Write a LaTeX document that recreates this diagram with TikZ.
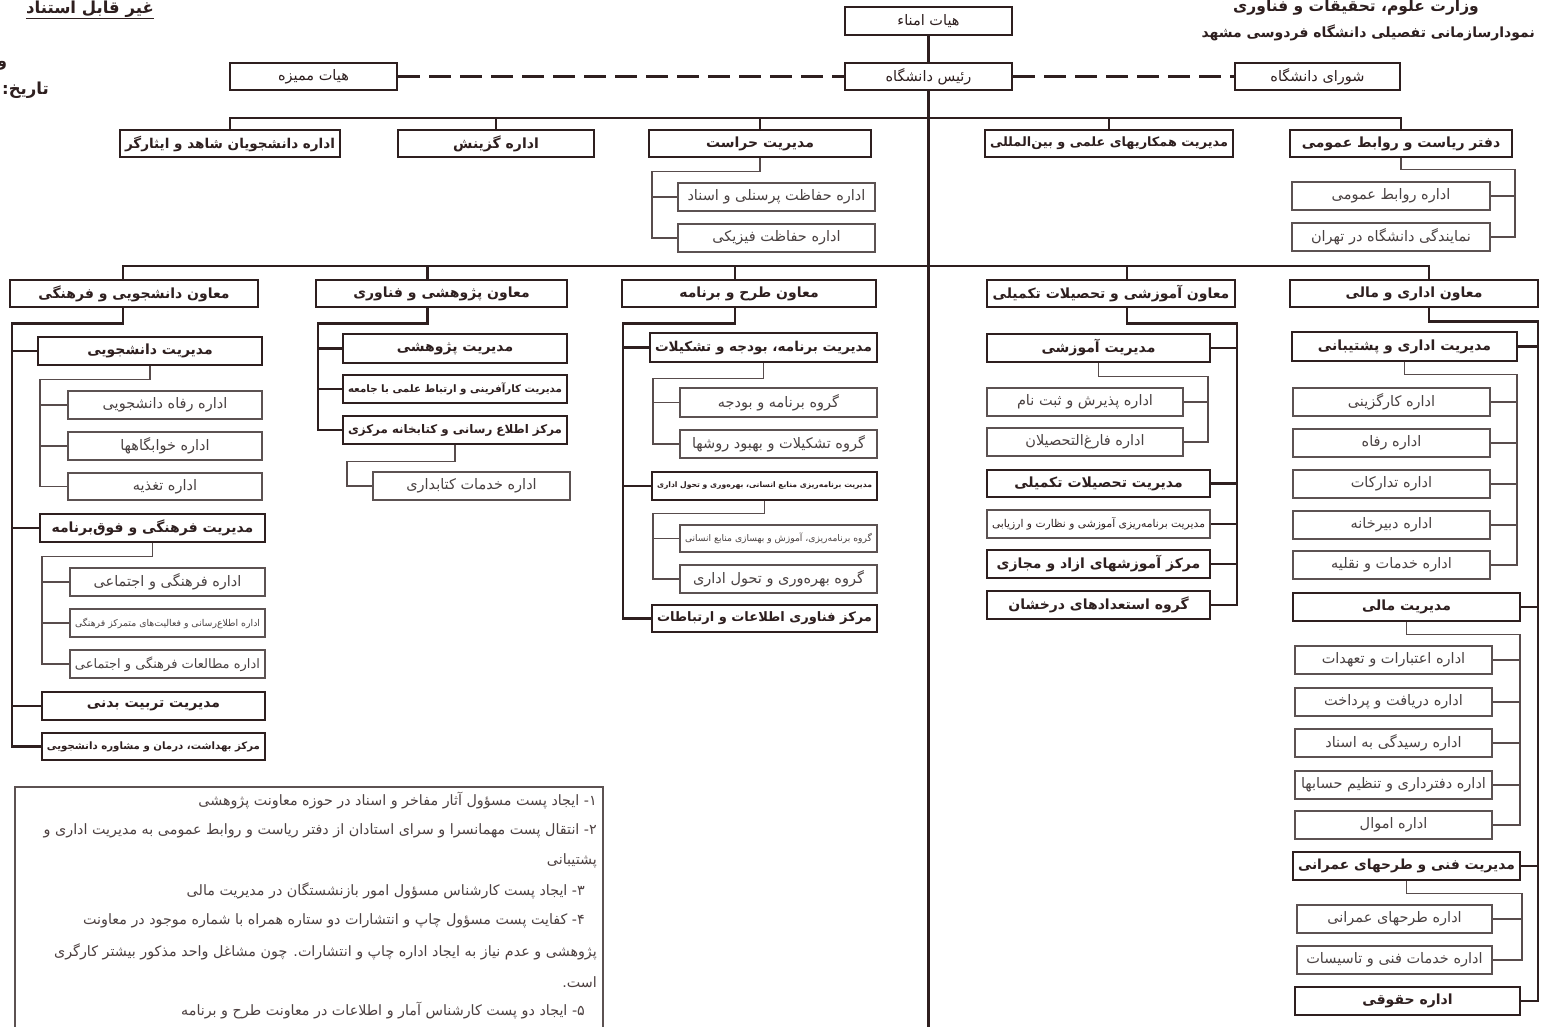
\documentclass[tikz,border=0pt]{standalone}
\usepackage{fontspec}
\usepackage{graphicx}
\usetikzlibrary{backgrounds}
\TeXXeTstate=1
\newfontfamily\arabicfont[Script=Arabic]{DejaVu Sans}
\definecolor{ink}{HTML}{2E1F1F}
\definecolor{thinline}{HTML}{5C5252}
\definecolor{thintext}{HTML}{4A4242}
\newsavebox\fitbx
\newdimen\fitw
\newcommand\fitto[1]{\sbox\fitbx{\arabicfont #1}\ifdim\wd\fitbx>\fitw\resizebox{\fitw}{!}{\usebox\fitbx}\else\usebox\fitbx\fi}
\newcommand\bx[7]{\global\fitw=\dimexpr #4pt-#2pt-10pt\relax
  \node[#6, minimum width={#4-#2}, minimum height={#5-#3}] (#1) at ({(#2+#4)/2},{(#3+#5)/2}) {\fitto{#7}};}
\tikzset{
  tb/.style={draw=ink, line width=2.6pt, fill=white, inner sep=0pt, text=ink, font=\bfseries\fontsize{14}{16}\selectfont},
  hb/.style={tb, font=\fontsize{14.5}{16}\selectfont},
  nb/.style={draw=thinline, line width=1.3pt, fill=white, inner sep=0pt, text=thintext, font=\fontsize{14.5}{16}\selectfont},
  thk/.style={draw=ink, line width=2.6pt, line cap=rect},
  thn/.style={draw=ink!80, line width=1.5pt, line cap=rect},
  dsh/.style={draw=ink, line width=3pt, dash pattern=on 22pt off 9pt},
  fnt/.style={inner sep=0pt, text=ink!85, font=\arabicfont\fontsize{14.3}{16}\selectfont},
  ttl/.style={inner sep=0pt, text=ink, font=\arabicfont\bfseries\fontsize{15}{18}\selectfont}
}
\begin{document}
\begin{tikzpicture}[x=1pt,y=-1pt]
\useasboundingbox (0,0) rectangle (1542,1027);

% header texts
\node[ttl, font=\arabicfont\bfseries\fontsize{16.5}{18}\selectfont] (gh) at (90,9) {\beginR غیر قابل استناد\endR};
\node[ttl, font=\arabicfont\bfseries\fontsize{16}{18}\selectfont, anchor=west] (vav) at (-3,66) {\beginR و\endR};
\node[ttl, font=\arabicfont\bfseries\fontsize{16.5}{18}\selectfont, anchor=east] (tarikh) at (49,90) {\beginR تاریخ:\endR};
\node[ttl, font=\arabicfont\bfseries\fontsize{15.5}{19}\selectfont] (vezarat) at (1356,8) {\beginR وزارت علوم، تحقیقات و فناوری\endR};
\node[ttl, font=\arabicfont\bfseries\fontsize{14}{17}\selectfont, anchor=east] (nemodar) at (1535,33) {\beginR نمودارسازمانی تفصیلی دانشگاه فردوسی مشهد\endR};

% top boxes
\bx{omana}{845}{7}{1012}{35}{hb}{\beginR هیات امناء\endR}
\bx{rais}{845}{63}{1012}{90}{hb}{\beginR رئیس دانشگاه\endR}
\bx{momayyeze}{230}{63}{397}{90}{hb}{\beginR هیات ممیزه\endR}
\bx{shora}{1235}{63}{1400}{90}{hb}{\beginR شورای دانشگاه\endR}

% row 2
\bx{shahed}{120}{130}{340}{157}{tb}{\beginR اداره دانشجویان شاهد و ایثارگر\endR}
\bx{gozinesh}{398}{130}{594}{157}{tb}{\beginR اداره گزینش\endR}
\bx{herasat}{649}{130}{871}{157}{tb}{\beginR مدیریت حراست\endR}
\bx{hamkari}{985}{130}{1233}{157}{tb}{\beginR مدیریت همکاریهای علمی و بین‌المللی\endR}
\bx{daftar}{1290}{130}{1512}{157}{tb}{\beginR دفتر ریاست و روابط عمومی\endR}
\bx{hf1}{678}{183}{875}{211}{nb}{\beginR اداره حفاظت پرسنلی و اسناد\endR}
\bx{hf2}{678}{224}{875}{252}{nb}{\beginR اداره حفاظت فیزیکی\endR}
\bx{dr1}{1292}{182}{1490}{210}{nb}{\beginR اداره روابط عمومی\endR}
\bx{dr2}{1292}{223}{1490}{251}{nb}{\beginR نمایندگی دانشگاه در تهران\endR}

% row 3
\bx{ma1}{10}{280}{258}{307}{tb}{\beginR معاون دانشجویی و فرهنگی\endR}
\bx{ma2}{316}{280}{567}{307}{tb}{\beginR معاون پژوهشی و فناوری\endR}
\bx{ma3}{622}{280}{876}{307}{tb}{\beginR معاون طرح و برنامه\endR}
\bx{ma4}{987}{280}{1235}{307}{tb}{\beginR معاون آموزشی و تحصیلات تکمیلی\endR}
\bx{ma5}{1290}{280}{1538}{307}{tb}{\beginR معاون اداری و مالی\endR}

% column 1
\bx{a1}{38}{337}{262}{365}{tb}{\beginR مدیریت دانشجویی\endR}
\bx{a11}{68}{391}{262}{419}{nb}{\beginR اداره رفاه دانشجویی\endR}
\bx{a12}{68}{432}{262}{460}{nb}{\beginR اداره خوابگاهها\endR}
\bx{a13}{68}{473}{262}{500}{nb}{\beginR اداره تغذیه\endR}
\bx{a2}{40}{514}{265}{542}{tb}{\beginR مدیریت فرهنگی و فوق‌برنامه\endR}
\bx{a21}{70}{568}{265}{596}{nb}{\beginR اداره فرهنگی و اجتماعی\endR}
\bx{a22}{70}{609}{265}{637}{nb}{\beginR اداره اطلاع‌رسانی و فعالیت‌های متمرکز فرهنگی\endR}
\bx{a23}{70}{650}{265}{678}{nb}{\beginR اداره مطالعات فرهنگی و اجتماعی\endR}
\bx{a3}{42}{692}{265}{720}{tb}{\beginR مدیریت تربیت بدنی\endR}
\bx{a4}{42}{733}{265}{760}{tb}{\beginR مرکز بهداشت، درمان و مشاوره دانشجویی\endR}

% column 2
\bx{b1}{343}{334}{567}{363}{tb}{\beginR مدیریت پژوهشی\endR}
\bx{b2}{343}{375}{567}{403}{tb}{\beginR مدیریت کارآفرینی و ارتباط علمی با جامعه\endR}
\bx{b3}{343}{416}{567}{444}{tb}{\beginR مرکز اطلاع رسانی و کتابخانه مرکزی\endR}
\bx{b31}{373}{472}{570}{500}{nb}{\beginR اداره خدمات کتابداری\endR}

% column 3
\bx{c1}{650}{333}{877}{362}{tb}{\beginR مدیریت برنامه، بودجه و تشکیلات\endR}
\bx{c11}{680}{388}{877}{417}{nb}{\beginR گروه برنامه و بودجه\endR}
\bx{c12}{680}{430}{877}{458}{nb}{\beginR گروه تشکیلات و بهبود روشها\endR}
\bx{c2}{652}{472}{877}{500}{tb}{\beginR مدیریت برنامه‌ریزی منابع انسانی، بهره‌وری و تحول اداری\endR}
\bx{c21}{680}{525}{877}{552}{nb}{\beginR گروه برنامه‌ریزی، آموزش و بهسازی منابع انسانی\endR}
\bx{c22}{680}{565}{877}{593}{nb}{\beginR گروه بهره‌وری و تحول اداری\endR}
\bx{c3}{652}{605}{877}{632}{tb}{\beginR مرکز فناوری اطلاعات و ارتباطات\endR}

% column 4
\bx{d1}{987}{334}{1210}{362}{tb}{\beginR مدیریت آموزشی\endR}
\bx{d11}{987}{388}{1183}{416}{nb}{\beginR اداره پذیرش و ثبت نام\endR}
\bx{d12}{987}{428}{1183}{456}{nb}{\beginR اداره فارغ‌التحصیلان\endR}
\bx{d2}{987}{470}{1210}{497}{tb}{\beginR مدیریت تحصیلات تکمیلی\endR}
\bx{d3}{987}{510}{1210}{538}{nb,text=ink}{\beginR مدیریت برنامه‌ریزی آموزشی و نظارت و ارزیابی\endR}
\bx{d4}{987}{550}{1210}{578}{tb}{\beginR مرکز آموزشهای ازاد و مجازی\endR}
\bx{d5}{987}{591}{1210}{619}{tb}{\beginR گروه استعدادهای درخشان\endR}

% column 5
\bx{e1}{1292}{332}{1517}{361}{tb}{\beginR مدیریت اداری و پشتیبانی\endR}
\bx{e11}{1293}{388}{1490}{416}{nb}{\beginR اداره کارگزینی\endR}
\bx{e12}{1293}{429}{1490}{457}{nb}{\beginR اداره رفاه\endR}
\bx{e13}{1293}{470}{1490}{498}{nb}{\beginR اداره تدارکات\endR}
\bx{e14}{1293}{511}{1490}{539}{nb}{\beginR اداره دبیرخانه\endR}
\bx{e15}{1293}{551}{1490}{579}{nb}{\beginR اداره خدمات و نقلیه\endR}
\bx{e2}{1293}{593}{1520}{621}{tb}{\beginR مدیریت مالی\endR}
\bx{e21}{1295}{646}{1492}{674}{nb}{\beginR اداره اعتبارات و تعهدات\endR}
\bx{e22}{1295}{688}{1492}{716}{nb}{\beginR اداره دریافت و پرداخت\endR}
\bx{e23}{1295}{729}{1492}{757}{nb}{\beginR اداره رسیدگی به اسناد\endR}
\bx{e24}{1295}{771}{1492}{799}{nb}{\beginR اداره دفترداری و تنظیم حسابها\endR}
\bx{e25}{1295}{811}{1492}{839}{nb}{\beginR اداره اموال\endR}
\bx{e3}{1293}{852}{1520}{880}{tb}{\beginR مدیریت فنی و طرحهای عمرانی\endR}
\bx{e31}{1297}{905}{1492}{933}{nb}{\beginR اداره طرحهای عمرانی\endR}
\bx{e32}{1297}{946}{1492}{974}{nb}{\beginR اداره خدمات فنی و تاسیسات\endR}
\bx{e4}{1295}{987}{1520}{1015}{tb}{\beginR اداره حقوقی\endR}

% footnotes
\node[fnt, anchor=east] (f1) at (597,801) {\beginR ۱- ایجاد پست مسؤول آثار مفاخر و اسناد در حوزه معاونت پژوهشی\endR};
\node[fnt, anchor=east] (f2) at (597,831) {\beginR ۲- انتقال پست مهمانسرا و سرای استادان از دفتر ریاست و روابط عمومی به مدیریت اداری و\endR};
\node[fnt, anchor=east] (f3) at (597,861) {\beginR پشتیبانی\endR};
\node[fnt, anchor=east] (f4) at (585,891) {\beginR ۳- ایجاد پست کارشناس مسؤول امور بازنشستگان در مدیریت مالی\endR};
\node[fnt, anchor=east] (f5) at (585,921) {\beginR ۴- کفایت پست مسؤول چاپ و انتشارات دو ستاره همراه با شماره موجود در معاونت\endR};
\node[fnt, anchor=east] (f6) at (597,952) {\beginR پژوهشی و عدم نیاز به ایجاد اداره چاپ و انتشارات. چون مشاغل واحد مذکور بیشتر کارگری\endR};
\node[fnt, anchor=east] (f7) at (597,982) {\beginR است.\endR};
\node[fnt, anchor=east] (f8) at (585,1011) {\beginR ۵- ایجاد دو پست کارشناس آمار و اطلاعات در معاونت طرح و برنامه\endR};

\begin{scope}[on background layer]
  \fill[white] (0,0) rectangle (1542,1027);
  \coordinate (bus1) at (0,118);
  \coordinate (bus2) at (0,266);
  \coordinate (bottom) at (0,1030);
  % underline
  \draw[ink, line width=1.2pt] ([yshift=-1pt]gh.south west) -- ([yshift=-1pt]gh.south east);
  % footnote frame
  \draw[thinline, line width=1.3pt] (15,1030) -- (15,787) -- (603,787) -- (603,1030);
  % top
  \draw[thk] (omana) -- (rais);
  \draw[thk] (rais.south) -- (rais.south |- bottom);
  \draw[dsh] (momayyeze.east) -- (rais.west);
  \draw[dsh] (rais.east) -- (shora.west);
  % bus 1
  \draw[thk] (shahed.north) -- (shahed.north |- bus1) -| (daftar.north);
  \foreach \n in {gozinesh,herasat,hamkari} \draw[thk] (\n.north) -- (\n.north |- bus1);
  % herasat
  \coordinate (hs) at (652,0);
  \draw[thn] (herasat.south) -- ++(0,13) -| (hf2.west -| hs) -- (hf2.west);
  \draw[thn] (hf1.west -| hs) -- (hf1.west);
  % daftar
  \coordinate (ds) at (1515,0);
  \draw[thn] (daftar.south) -- ++(0,11) -| (dr2.east -| ds) -- (dr2.east);
  \draw[thn] (dr1.east -| ds) -- (dr1.east);
  % bus 2
  \coordinate (t1) at ([xshift=-11pt]ma1.north);
  \coordinate (t2) at ([xshift=-14pt]ma2.north);
  \coordinate (t3) at ([xshift=-14pt]ma3.north);
  \coordinate (t4) at ([xshift=16pt]ma4.north);
  \coordinate (t5) at ([xshift=15pt]ma5.north);
  \draw[thk] (t1) -- (t1 |- bus2) -| (t5);
  \foreach \n in {t2,t3,t4} \draw[thk] (\n) -- (\n |- bus2);
  % column 1
  \coordinate (s1) at (12,0);
  \draw[thk] ([xshift=-11pt]ma1.south) -- ++(0,15) -| (a4.west -| s1) -- (a4.west);
  \foreach \n in {a1,a2,a3} \draw[thk] (\n.west -| s1) -- (\n.west);
  \coordinate (s11) at (40,0);
  \draw[thn] (a1.south) -- ++(0,13) -| (a13.west -| s11) -- (a13.west);
  \foreach \n in {a11,a12} \draw[thn] (\n.west -| s11) -- (\n.west);
  \coordinate (s12) at (42,0);
  \draw[thn] (a2.south) -- ++(0,13) -| (a23.west -| s12) -- (a23.west);
  \foreach \n in {a21,a22} \draw[thn] (\n.west -| s12) -- (\n.west);
  % column 2
  \coordinate (s2) at (318,0);
  \draw[thk] ([xshift=-14pt]ma2.south) -- ++(0,15) -| (b3.west -| s2) -- (b3.west);
  \foreach \n in {b1,b2} \draw[thk] (\n.west -| s2) -- (\n.west);
  \coordinate (s21) at (347,0);
  \draw[thn] (b3.south) -- ++(0,16) -| (b31.west -| s21) -- (b31.west);
  % column 3
  \coordinate (s3) at (623,0);
  \draw[thk] ([xshift=-14pt]ma3.south) -- ++(0,15) -| (c3.west -| s3) -- (c3.west);
  \foreach \n in {c1,c2} \draw[thk] (\n.west -| s3) -- (\n.west);
  \coordinate (s31) at (653,0);
  \draw[thn] (c1.south) -- ++(0,15) -| (c12.west -| s31) -- (c12.west);
  \draw[thn] (c11.west -| s31) -- (c11.west);
  \draw[thn] (c2.south) -- ++(0,12) -| (c22.west -| s31) -- (c22.west);
  \draw[thn] (c21.west -| s31) -- (c21.west);
  % column 4
  \coordinate (s4) at (1237,0);
  \draw[thk] ([xshift=16pt]ma4.south) -- ++(0,15) -| (d5.east -| s4) -- (d5.east);
  \foreach \n in {d1,d2,d3,d4} \draw[thk] (\n.east -| s4) -- (\n.east);
  \coordinate (s41) at (1208,0);
  \draw[thn] (d1.south) -- ++(0,13) -| (d12.east -| s41) -- (d12.east);
  \draw[thn] (d11.east -| s41) -- (d11.east);
  % column 5
  \coordinate (s5) at (1538,0);
  \draw[thk] ([xshift=15pt]ma5.south) -- ++(0,13) -| (e4.east -| s5) -- (e4.east);
  \foreach \n in {e1,e2,e3} \draw[thk] (\n.east -| s5) -- (\n.east);
  \coordinate (s51) at (1517,0);
  \draw[thn] (e1.south) -- ++(0,12) -| (e15.east -| s51) -- (e15.east);
  \foreach \n in {e11,e12,e13,e14} \draw[thn] (\n.east -| s51) -- (\n.east);
  \coordinate (s52) at (1520,0);
  \draw[thn] (e2.south) -- ++(0,12) -| (e25.east -| s52) -- (e25.east);
  \foreach \n in {e21,e22,e23,e24} \draw[thn] (\n.east -| s52) -- (\n.east);
  \coordinate (s53) at (1522,0);
  \draw[thn] (e3.south) -- ++(0,12) -| (e32.east -| s53) -- (e32.east);
  \draw[thn] (e31.east -| s53) -- (e31.east);
\end{scope}
\end{tikzpicture}
\end{document}
